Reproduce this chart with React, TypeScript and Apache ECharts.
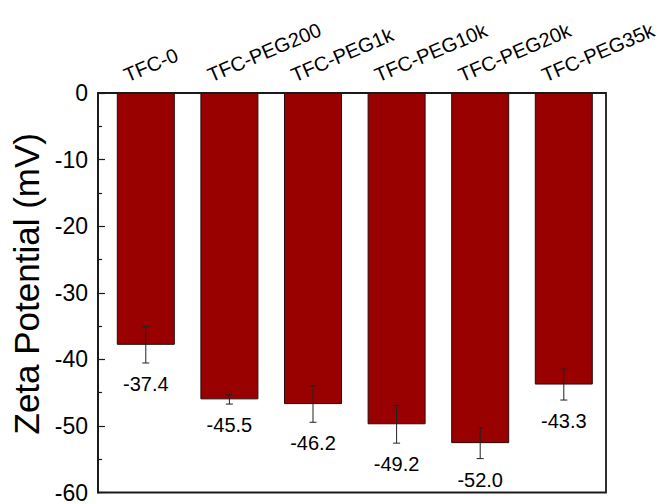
import React, { useEffect, useRef } from 'react';
import * as echarts from 'echarts';

// Zeta potential of each membrane (mV) with its standard deviation
const categories = ['TFC-0', 'TFC-PEG200', 'TFC-PEG1k', 'TFC-PEG10k', 'TFC-PEG20k', 'TFC-PEG35k'];
const zetaValues = [-37.4, -45.5, -46.2, -49.2, -52.0, -43.3];
const zetaErrors = [2.7, 0.7, 2.7, 2.8, 2.3, 2.3];
const yMin = -60;
const yMax = 0;
const yStep = 10;

const FONT = '"Liberation Sans", Arial, Helvetica, sans-serif';

// plot rectangle
const PLOT_LEFT = 98;
const PLOT_TOP = 93;
const PLOT_W = 508;
const PLOT_H = 404;
// bars sit a little right of the frame's left edge
const BAR_LEFT = 104;
const BAR_W = 501.6;
const CAT_ROTATE = (23 * Math.PI) / 180;

export default function App() {
  const ref = useRef<HTMLDivElement>(null);

  useEffect(() => {
    if (!ref.current) return;
    const chart = echarts.init(ref.current, null, { renderer: 'svg' });

    const errorData = categories.map((_, i) => [i, zetaValues[i], zetaErrors[i]]);
    const nameData = categories.map((_, i) => [i, yMax]);

    chart.setOption({
      animation: false,
      backgroundColor: '#fff',
      grid: [
        {
          left: PLOT_LEFT,
          top: PLOT_TOP,
          width: PLOT_W,
          height: PLOT_H,
          show: true,
          borderColor: '#1a1a1a',
          borderWidth: 1.8,
          backgroundColor: 'transparent',
          z: 10,
        },
        { left: BAR_LEFT, top: PLOT_TOP, width: BAR_W, height: PLOT_H },
      ],
      xAxis: [
        { type: 'value', gridIndex: 0, min: 0, max: 1, show: false },
        { type: 'category', gridIndex: 1, data: categories, show: false },
      ],
      yAxis: [
        {
          type: 'value',
          gridIndex: 0,
          min: yMin,
          max: yMax,
          interval: yStep,
          name: 'Zeta Potential (mV)',
          nameLocation: 'middle',
          nameGap: 52,
          nameTextStyle: {
            fontFamily: FONT,
            fontSize: 35,
            color: '#000',
            padding: [0, 0, 0, 18],
          },
          axisLine: { show: true, lineStyle: { color: '#1a1a1a', width: 1.8 } },
          axisTick: { show: true, inside: true, length: 7, lineStyle: { color: '#1a1a1a', width: 1.2 } },
          minorTick: { show: true, splitNumber: 2, length: 4, lineStyle: { color: '#1a1a1a', width: 1.2 } },
          splitLine: { show: false },
          axisLabel: {
            margin: 10,
            fontFamily: FONT,
            fontSize: 23,
            color: '#000',
          },
        },
        { type: 'value', gridIndex: 1, min: yMin, max: yMax, interval: yStep, show: false },
      ],
      series: [
        {
          type: 'bar',
          xAxisIndex: 1,
          yAxisIndex: 1,
          data: zetaValues,
          barWidth: 58,
          itemStyle: { color: '#990000', borderColor: '#2a0a0a', borderWidth: 1 },
          z: 2,
        },
        {
          // error bars with the value written beneath each one
          type: 'custom',
          xAxisIndex: 1,
          yAxisIndex: 1,
          data: errorData,
          encode: { x: 0, y: 1 },
          clip: false,
          z: 5,
          renderItem: (_params: any, api: any) => {
            const i = api.value(0);
            const v = api.value(1);
            const e = api.value(2);
            const hi = api.coord([i, v + e]);
            const lo = api.coord([i, v - e]);
            const cap = 3.5;
            const stroke = { stroke: '#222', lineWidth: 1 };
            return {
              type: 'group',
              children: [
                { type: 'line', shape: { x1: hi[0], y1: hi[1], x2: lo[0], y2: lo[1] }, style: stroke },
                { type: 'line', shape: { x1: hi[0] - cap, y1: hi[1], x2: hi[0] + cap, y2: hi[1] }, style: stroke },
                { type: 'line', shape: { x1: lo[0] - cap, y1: lo[1], x2: lo[0] + cap, y2: lo[1] }, style: stroke },
                {
                  type: 'text',
                  x: lo[0],
                  y: lo[1] + 21,
                  style: {
                    text: Number(v).toFixed(1),
                    fill: '#000',
                    fontFamily: FONT,
                    fontSize: 20,
                    align: 'center',
                    verticalAlign: 'middle',
                  },
                },
              ],
            };
          },
        },
        {
          // slanted category names above the frame
          type: 'custom',
          xAxisIndex: 1,
          yAxisIndex: 1,
          data: nameData,
          encode: { x: 0, y: 1 },
          clip: false,
          z: 5,
          renderItem: (params: any, api: any) => {
            const i = api.value(0);
            const p = api.coord([i, api.value(1)]);
            return {
              type: 'text',
              x: p[0] - 21,
              y: p[1] - 17,
              rotation: CAT_ROTATE,
              style: {
                text: categories[params.dataIndex],
                fill: '#000',
                fontFamily: FONT,
                fontSize: 20,
                align: 'left',
                verticalAlign: 'middle',
              },
            };
          },
        },
      ],
    });

    return () => chart.dispose();
  }, []);

  return (
    <div
      ref={ref}
      style={{ position: 'fixed', left: 0, top: 0, width: 659, height: 504 }}
    />
  );
}
